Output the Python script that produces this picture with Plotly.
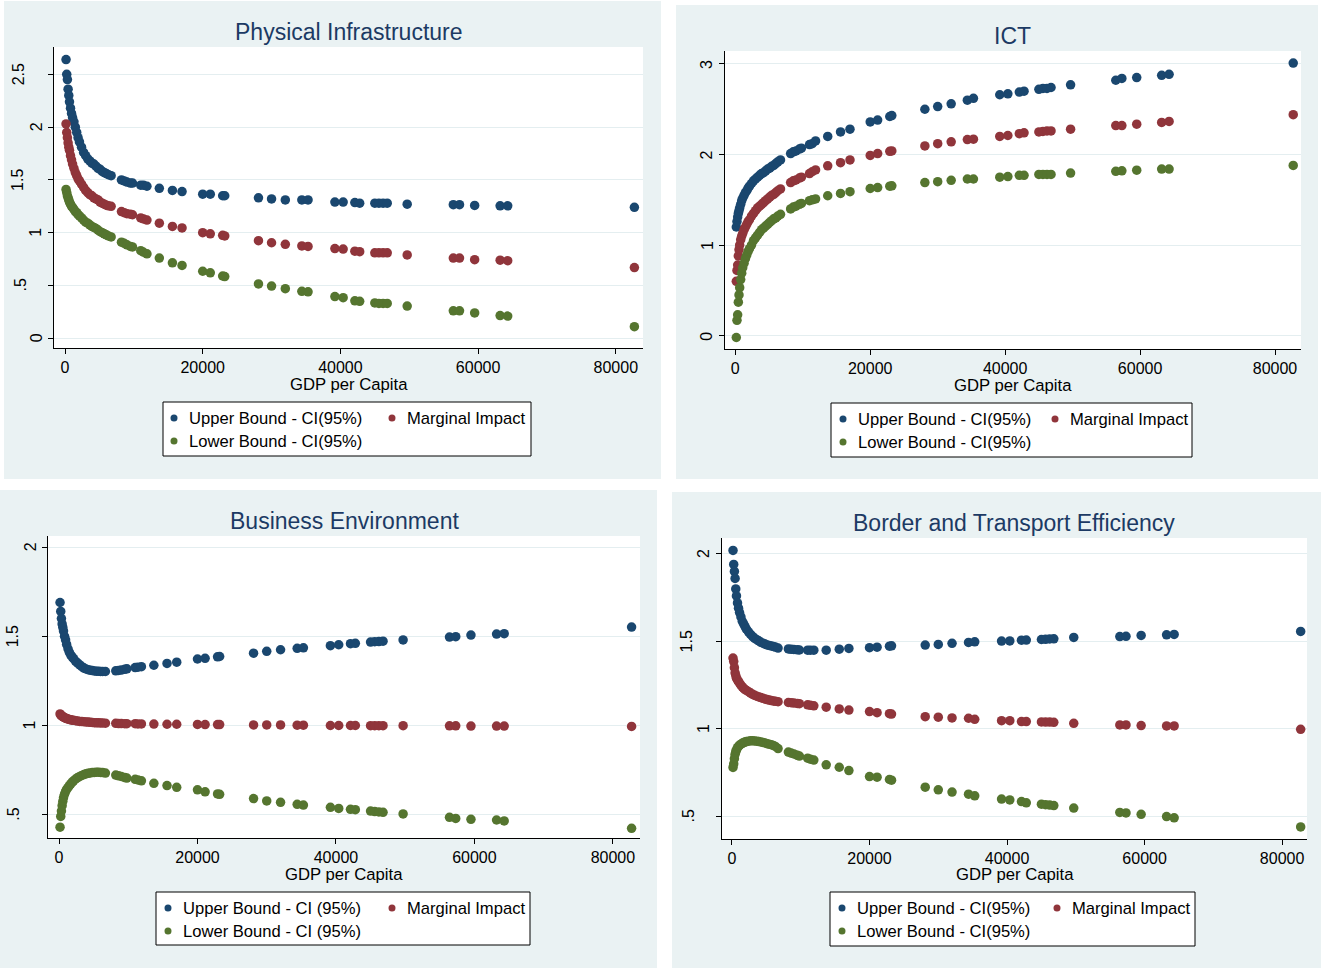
import plotly.graph_objects as go

# ---------------- data ----------------
GDP = [150, 250, 350, 450, 550, 650, 800, 950, 1100, 1300,
       1500, 1700, 1900, 2100, 2400, 2700, 3000, 3300, 3600, 3900,
       4200, 4500, 4800, 5100, 5400, 5700, 6000, 6300, 6700,
       8200, 8600, 9000, 9500, 9800, 11000, 11400, 11900,
       13700, 15600, 17000, 20000, 21100, 22900, 23200,
       28100, 30000, 32000, 34400, 35300, 39200, 40400, 42100, 42800,
       45000, 45600, 46200, 46800, 49700, 56400, 57300, 59500, 63200, 64300, 82700]

PI_UPPER = [2.64, 2.50, 2.45, 2.36, 2.30, 2.24, 2.18, 2.13, 2.09, 2.05,
            2.00, 1.95, 1.90, 1.86, 1.81, 1.76, 1.73, 1.70, 1.68, 1.66,
            1.65, 1.63, 1.61, 1.60, 1.58, 1.57, 1.56, 1.55, 1.54,
            1.50, 1.49, 1.48, 1.47, 1.47, 1.45, 1.45, 1.44,
            1.42, 1.40, 1.39, 1.365, 1.365, 1.35, 1.35,
            1.33, 1.32, 1.31, 1.31, 1.31, 1.29, 1.29, 1.285, 1.28,
            1.28, 1.28, 1.28, 1.28, 1.27, 1.265, 1.265, 1.258, 1.255, 1.255, 1.24]
PI_MARGINAL = [2.03, 1.95, 1.90, 1.85, 1.81, 1.78, 1.73, 1.69, 1.65, 1.61,
               1.57, 1.54, 1.51, 1.49, 1.46, 1.43, 1.40, 1.38, 1.36, 1.35,
               1.33, 1.32, 1.31, 1.29, 1.28, 1.27, 1.26, 1.255, 1.25,
               1.20, 1.19, 1.18, 1.175, 1.17, 1.14, 1.13, 1.12,
               1.09, 1.06, 1.045, 1.00, 0.99, 0.975, 0.97,
               0.925, 0.905, 0.89, 0.875, 0.87, 0.85, 0.845, 0.825, 0.82,
               0.81, 0.81, 0.81, 0.81, 0.79, 0.76, 0.76, 0.745, 0.74, 0.735, 0.67]
PI_LOWER = [1.41, 1.38, 1.35, 1.33, 1.31, 1.29, 1.27, 1.25, 1.24, 1.22,
            1.20, 1.19, 1.17, 1.16, 1.14, 1.12, 1.10, 1.09, 1.075, 1.06,
            1.05, 1.04, 1.025, 1.01, 1.00, 0.99, 0.98, 0.97, 0.96,
            0.91, 0.90, 0.885, 0.87, 0.865, 0.83, 0.815, 0.80,
            0.76, 0.715, 0.69, 0.635, 0.62, 0.59, 0.585,
            0.515, 0.495, 0.47, 0.445, 0.44, 0.395, 0.385, 0.355, 0.35,
            0.335, 0.33, 0.33, 0.33, 0.305, 0.26, 0.26, 0.24, 0.215, 0.21, 0.11]

ICT_UPPER = [1.20, 1.26, 1.31, 1.35, 1.38, 1.41, 1.45, 1.49, 1.52, 1.55,
             1.58, 1.60, 1.63, 1.65, 1.68, 1.71, 1.73, 1.75, 1.77, 1.79,
             1.80, 1.82, 1.84, 1.85, 1.87, 1.88, 1.90, 1.92, 1.94,
             2.01, 2.03, 2.04, 2.06, 2.07, 2.11, 2.12, 2.15,
             2.20, 2.25, 2.28, 2.36, 2.38, 2.42, 2.43,
             2.50, 2.53, 2.56, 2.60, 2.62, 2.66, 2.67, 2.69, 2.70,
             2.72, 2.73, 2.73, 2.74, 2.77, 2.82, 2.84, 2.85, 2.875, 2.885, 3.01]
ICT_MARGINAL = [0.60, 0.72, 0.78, 0.88, 0.95, 1.00, 1.06, 1.10, 1.13, 1.17,
                1.20, 1.23, 1.26, 1.28, 1.32, 1.35, 1.38, 1.41, 1.43, 1.45,
                1.47, 1.49, 1.51, 1.53, 1.55, 1.56, 1.58, 1.60, 1.62,
                1.69, 1.71, 1.72, 1.74, 1.75, 1.79, 1.81, 1.83,
                1.875, 1.91, 1.94, 1.99, 2.01, 2.035, 2.04,
                2.095, 2.12, 2.14, 2.165, 2.17, 2.20, 2.21, 2.23, 2.24,
                2.25, 2.255, 2.26, 2.26, 2.28, 2.32, 2.32, 2.335, 2.355, 2.365, 2.44]
ICT_LOWER = [-0.02, 0.17, 0.23, 0.37, 0.45, 0.53, 0.62, 0.69, 0.75, 0.80,
             0.85, 0.89, 0.93, 0.96, 1.00, 1.05, 1.08, 1.11, 1.14, 1.17,
             1.19, 1.21, 1.23, 1.25, 1.27, 1.29, 1.30, 1.32, 1.34,
             1.40, 1.42, 1.43, 1.45, 1.46, 1.49, 1.50, 1.51,
             1.545, 1.57, 1.59, 1.625, 1.635, 1.65, 1.655,
             1.69, 1.70, 1.715, 1.73, 1.73, 1.75, 1.757, 1.77, 1.77,
             1.78, 1.78, 1.78, 1.78, 1.795, 1.815, 1.82, 1.827, 1.84, 1.84, 1.88]

BE_UPPER = [1.69, 1.64, 1.60, 1.57, 1.55, 1.53, 1.50, 1.48, 1.455, 1.43,
            1.41, 1.395, 1.385, 1.375, 1.36, 1.35, 1.34, 1.33, 1.322, 1.317,
            1.313, 1.31, 1.308, 1.306, 1.305, 1.304, 1.303, 1.303, 1.303,
            1.307, 1.309, 1.311, 1.315, 1.318, 1.325, 1.327, 1.33,
            1.338, 1.348, 1.355, 1.373, 1.377, 1.385, 1.387,
            1.406, 1.416, 1.425, 1.433, 1.436, 1.448, 1.453, 1.459, 1.461,
            1.468, 1.47, 1.471, 1.473, 1.48, 1.496, 1.498, 1.507, 1.513, 1.515, 1.552]
BE_MARGINAL = [1.065, 1.06, 1.055, 1.052, 1.05, 1.047, 1.044, 1.041, 1.039, 1.036,
               1.034, 1.032, 1.03, 1.029, 1.027, 1.025, 1.023, 1.022, 1.021, 1.02,
               1.019, 1.018, 1.017, 1.016, 1.015, 1.015, 1.014, 1.014, 1.013,
               1.012, 1.011, 1.011, 1.01, 1.01, 1.01, 1.009, 1.009,
               1.008, 1.007, 1.007, 1.006, 1.005, 1.005, 1.005,
               1.003, 1.003, 1.003, 1.002, 1.002, 1.0, 1.0, 1.0, 1.0,
               0.999, 0.999, 0.999, 0.999, 0.999, 0.998, 0.998, 0.997, 0.997, 0.997, 0.995]
BE_LOWER = [0.43, 0.49, 0.52, 0.55, 0.575, 0.595, 0.615, 0.63, 0.642, 0.652,
            0.663, 0.672, 0.682, 0.69, 0.70, 0.708, 0.714, 0.72, 0.725, 0.729,
            0.732, 0.734, 0.736, 0.737, 0.738, 0.738, 0.737, 0.736, 0.733,
            0.722, 0.718, 0.714, 0.708, 0.705, 0.698, 0.695, 0.69,
            0.676, 0.663, 0.653, 0.639, 0.628, 0.616, 0.614,
            0.59, 0.577, 0.569, 0.558, 0.554, 0.541, 0.535, 0.53, 0.528,
            0.52, 0.517, 0.515, 0.513, 0.504, 0.485, 0.479, 0.474, 0.47, 0.465, 0.423]

BT_UPPER = [2.02, 1.94, 1.90, 1.86, 1.80, 1.76, 1.72, 1.69, 1.665, 1.64,
            1.615, 1.60, 1.585, 1.57, 1.555, 1.54, 1.528, 1.518, 1.51, 1.503,
            1.495, 1.49, 1.485, 1.48, 1.477, 1.474, 1.471, 1.468, 1.462,
            1.457, 1.455, 1.454, 1.452, 1.451, 1.45, 1.45, 1.45,
            1.45, 1.456, 1.46, 1.464, 1.467, 1.473, 1.475,
            1.479, 1.483, 1.489, 1.494, 1.498, 1.502, 1.503, 1.507, 1.508,
            1.511, 1.512, 1.514, 1.515, 1.523, 1.528, 1.529, 1.534, 1.538, 1.54, 1.557]
BT_MARGINAL = [1.405, 1.385, 1.35, 1.32, 1.305, 1.29, 1.28, 1.27, 1.262, 1.25,
               1.24, 1.232, 1.225, 1.22, 1.213, 1.205, 1.198, 1.192, 1.187, 1.183,
               1.179, 1.175, 1.171, 1.168, 1.165, 1.162, 1.16, 1.158, 1.156,
               1.151, 1.15, 1.148, 1.146, 1.144, 1.138, 1.135, 1.132,
               1.124, 1.114, 1.108, 1.099, 1.093, 1.087, 1.085,
               1.07, 1.067, 1.063, 1.061, 1.055, 1.047, 1.047, 1.042, 1.042,
               1.04, 1.039, 1.039, 1.038, 1.032, 1.023, 1.023, 1.019, 1.017, 1.017, 0.998]
BT_LOWER = [0.78, 0.80, 0.83, 0.855, 0.87, 0.88, 0.893, 0.90, 0.907, 0.913,
            0.918, 0.922, 0.925, 0.928, 0.93, 0.932, 0.932, 0.931, 0.93, 0.928,
            0.926, 0.923, 0.92, 0.916, 0.913, 0.91, 0.906, 0.90, 0.888,
            0.868, 0.862, 0.857, 0.849, 0.845, 0.833, 0.827, 0.822,
            0.795, 0.781, 0.762, 0.728, 0.724, 0.711, 0.707,
            0.667, 0.652, 0.639, 0.627, 0.618, 0.599, 0.594, 0.585, 0.578,
            0.57, 0.567, 0.565, 0.562, 0.548, 0.523, 0.52, 0.512, 0.499, 0.492, 0.44]

TITLES = ["Physical Infrastructure", "ICT", "Business Environment",
          "Border and Transport Efficiency"]
X_TICKS = [0, 20000, 40000, 60000, 80000]
Y_TICKS_PI = [0, 0.5, 1, 1.5, 2, 2.5]
Y_TICKS_ICT = [0, 1, 2, 3]
Y_TICKS_BE = [0.5, 1, 1.5, 2]
Y_TICKS_BT = [0.5, 1, 1.5, 2]
SERIES_NAMES = ["Upper Bound - CI(95%)", "Marginal Impact", "Lower Bound - CI(95%)"]
SERIES_NAMES_BE = ["Upper Bound - CI (95%)", "Marginal Impact", "Lower Bound - CI (95%)"]
X_TITLE = "GDP per Capita"

# ---------------- style / layout ----------------
W, H = 1321, 968
NAVY, MAROON, GREEN = "#1A476F", "#90353B", "#55752F"
PANEL_BG = "#EAF2F3"
GRID = "#E4EEF0"
TITLE_COLOR = "#1C3A64"
FONT = "Liberation Sans, Arial, sans-serif"


def fx(p):
    return p / W


def fy(p):
    return 1 - p / H


def fmt(v):
    s = ("%g" % v)
    if s.startswith("0."):
        s = s[1:]
    return s


panels = [
    dict(title=TITLES[0], ys=[PI_UPPER, PI_MARGINAL, PI_LOWER], names=SERIES_NAMES,
         bg=(4, 1, 661, 479), plot=(54, 47, 643, 348),
         xr=[-1598, 83950], yr=[-0.092, 2.759], yt=Y_TICKS_PI,
         title_xy=(349, 32), xtitle_y=384,
         leg=(163, 402, 531, 456), leg_rows=(418, 441), leg_x=(174, 392)),
    dict(title=TITLES[1], ys=[ICT_UPPER, ICT_MARGINAL, ICT_LOWER], names=SERIES_NAMES,
         bg=(676, 5, 1318, 479), plot=(725, 51, 1301, 349),
         xr=[-1526, 83852], yr=[-0.147, 3.143], yt=Y_TICKS_ICT,
         title_xy=(1012, 36), xtitle_y=385,
         leg=(831, 403, 1192, 457), leg_rows=(419, 442), leg_x=(843, 1055)),
    dict(title=TITLES[2], ys=[BE_UPPER, BE_MARGINAL, BE_LOWER], names=SERIES_NAMES_BE,
         bg=(0, 490, 657, 968), plot=(48, 536, 640, 838),
         xr=[-1590, 83915], yr=[0.369, 2.063], yt=Y_TICKS_BE,
         title_xy=(344, 521), xtitle_y=874,
         leg=(156, 892, 530, 945), leg_rows=(908, 931), leg_x=(168, 392)),
    dict(title=TITLES[3], ys=[BT_UPPER, BT_MARGINAL, BT_LOWER], names=SERIES_NAMES,
         bg=(672, 492, 1321, 968), plot=(722, 538, 1307, 839),
         xr=[-1453, 83620], yr=[0.371, 2.091], yt=Y_TICKS_BT,
         title_xy=(1014, 523), xtitle_y=874,
         leg=(830, 892, 1195, 946), leg_rows=(908, 931), leg_x=(842, 1057)),
]

colors = [NAVY, MAROON, GREEN]
fig = go.Figure()
shapes = []
annotations = []
layout_axes = {}

for i, p in enumerate(panels):
    k = "" if i == 0 else str(i + 1)
    xa, ya = "x" + k, "y" + k
    # panel background and plot area
    x0, y0, x1, y1 = p["bg"]
    shapes.append(dict(type="rect", xref="paper", yref="paper", layer="below",
                       x0=fx(x0), x1=fx(x1), y0=fy(y1), y1=fy(y0),
                       fillcolor=PANEL_BG, line=dict(width=0)))
    px0, py0, px1, py1 = p["plot"]
    shapes.append(dict(type="rect", xref="paper", yref="paper", layer="below",
                       x0=fx(px0), x1=fx(px1), y0=fy(py1), y1=fy(py0),
                       fillcolor="white", line=dict(width=0)))

    for j in range(3):
        fig.add_trace(go.Scatter(
            x=GDP, y=p["ys"][j], mode="markers", xaxis=xa, yaxis=ya,
            name=p["names"][j], showlegend=False,
            marker=dict(color=colors[j], size=9.5, line=dict(width=0))))

    layout_axes["xaxis" + k] = dict(
        domain=[fx(px0), fx(px1)], range=p["xr"], anchor=ya,
        tickvals=X_TICKS, ticktext=[str(v) for v in X_TICKS],
        ticks="outside", ticklen=5, tickcolor="black", tickwidth=1,
        showline=True, linecolor="black", linewidth=1,
        showgrid=False, zeroline=False,
        tickfont=dict(family=FONT, size=16, color="black"))
    layout_axes["yaxis" + k] = dict(
        domain=[fy(py1), fy(py0)], range=p["yr"], anchor=xa,
        tickvals=p["yt"], showticklabels=False,
        ticks="outside", ticklen=5, tickcolor="black", tickwidth=1,
        showline=True, linecolor="black", linewidth=1,
        showgrid=True, gridcolor=GRID, gridwidth=1, zeroline=False)

    # rotated y tick labels
    for v in p["yt"]:
        lab = fmt(v)
        shift = -18 if len(lab) == 1 else (-34 if lab.startswith(".") else -36)
        annotations.append(dict(
            text=lab, xref=xa + " domain", yref=ya, x=0, y=v, xshift=shift,
            xanchor="center", yanchor="middle", showarrow=False, textangle=-90,
            font=dict(family=FONT, size=16, color="black")))

    # title
    tx, ty = p["title_xy"]
    annotations.append(dict(text=p["title"], xref="paper", yref="paper",
                            x=fx(tx), y=fy(ty), xanchor="center", yanchor="middle",
                            showarrow=False,
                            font=dict(family=FONT, size=23, color=TITLE_COLOR)))
    # x axis title
    annotations.append(dict(text=X_TITLE, xref=xa + " domain", yref="paper",
                            x=0.5, y=fy(p["xtitle_y"]), xanchor="center",
                            yanchor="middle", showarrow=False,
                            font=dict(family=FONT, size=16.7, color="black")))

    # legend box
    lx0, ly0, lx1, ly1 = p["leg"]
    shapes.append(dict(type="rect", xref="paper", yref="paper",
                       x0=fx(lx0), x1=fx(lx1), y0=fy(ly1), y1=fy(ly0),
                       fillcolor="white", line=dict(color="black", width=1)))
    r1, r2 = p["leg_rows"]
    c1, c2 = p["leg_x"]
    entries = [(c1, r1, NAVY, p["names"][0]), (c2, r1, MAROON, p["names"][1]),
               (c1, r2, GREEN, p["names"][2])]
    for cx, cy, col, name in entries:
        shapes.append(dict(type="circle", xref="paper", yref="paper",
                           x0=fx(cx - 3.5), x1=fx(cx + 3.5),
                           y0=fy(cy + 3.5), y1=fy(cy - 3.5),
                           fillcolor=col, line=dict(width=0)))
        annotations.append(dict(text=name, xref="paper", yref="paper",
                                x=fx(cx + 13), y=fy(cy), xanchor="left",
                                yanchor="middle", showarrow=False,
                                font=dict(family=FONT, size=16.6, color="black")))

fig.update_layout(
    width=W, height=H, margin=dict(l=0, r=0, t=0, b=0),
    paper_bgcolor="white", plot_bgcolor="white",
    showlegend=False, shapes=shapes, annotations=annotations,
    font=dict(family=FONT, size=16, color="black"),
    **layout_axes)

fig.write_html("out.html")
